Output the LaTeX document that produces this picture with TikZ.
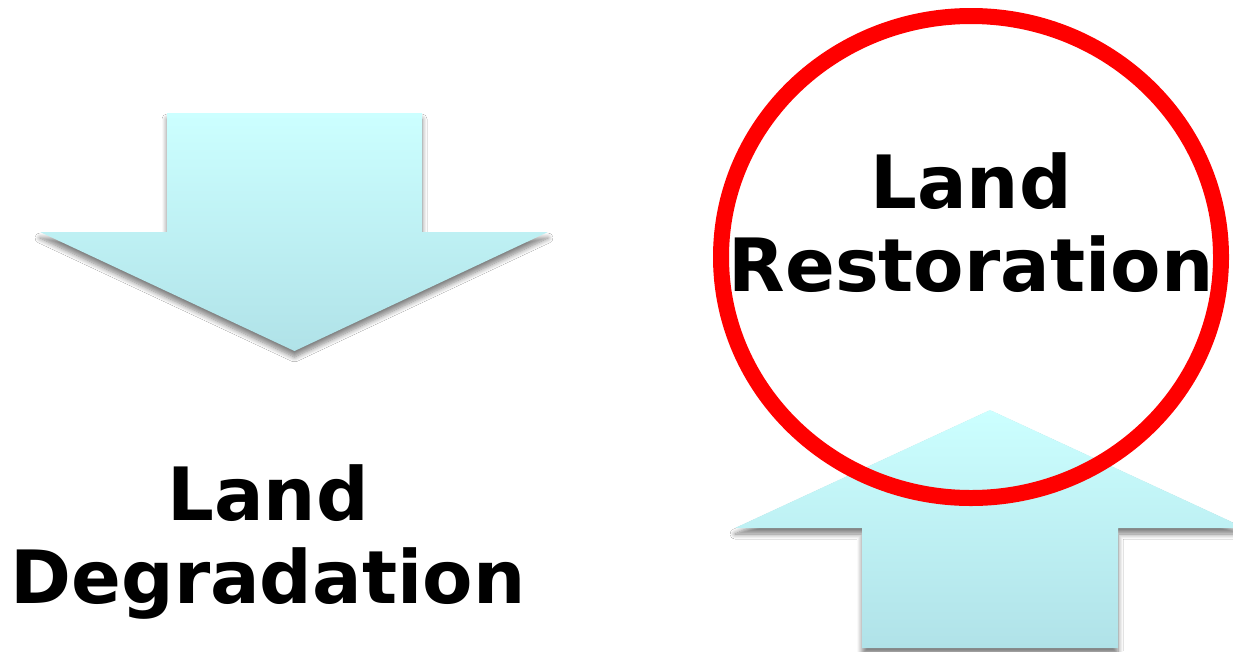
\documentclass[tikz,border=0pt]{standalone}
\usepackage{fontspec}
\setmainfont{DejaVu Sans}
\usetikzlibrary{shadows.blur}
\definecolor{arrowtop}{RGB}{204,255,255}
\definecolor{arrowbot}{RGB}{176,226,232}
\definecolor{ringred}{RGB}{255,0,0}
\tikzset{
  bigarrow/.style={top color=arrowtop, bottom color=arrowbot, draw=none,
    blur shadow={shadow xshift=0pt, shadow yshift=-6pt, shadow blur radius=5pt, shadow blur steps=8, shadow opacity=50}},
  label/.style={font=\fontsize{73.5}{83}\selectfont\bfseries, anchor=base, inner sep=0pt}
}
\begin{document}
\begin{tikzpicture}[x=1pt,y=-1pt]
\useasboundingbox (0,0) rectangle (1233,651);
\clip (0,0) rectangle (1233,651);
\fill[white] (0,0) rectangle (1233,651);
% down arrow (degradation)
\path[bigarrow] (167,113) -- (422,113) -- (422,232) -- (548,232) -- (294.5,351) -- (40,232) -- (167,232) -- cycle;
\node[label] (degland) at (268,520) {Land};
\node[label] (degword) at (268,603) {Degradation};
% up arrow (restoration)
\path[bigarrow] (990,410) -- (1245,528) -- (1118,528) -- (1118,648) -- (862,648) -- (862,528) -- (735,528) -- cycle;
% red ring
\draw[draw=ringred, line width=16pt] (971,257) ellipse [x radius=250, y radius=241];
\node[label] (resland) at (971,208) {Land};
\node[label] (resword) at (971,291) {Restoration};
\end{tikzpicture}
\end{document}
